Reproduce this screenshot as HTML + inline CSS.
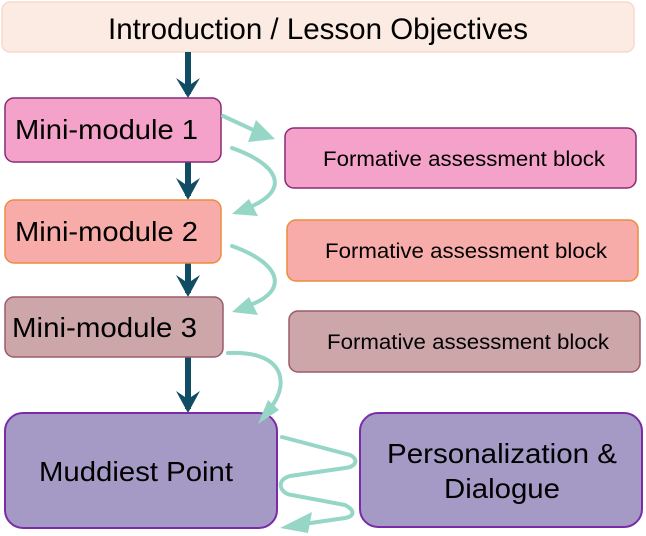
<!DOCTYPE html>
<html><head><meta charset="utf-8"><style>html,body{margin:0;padding:0;background:#fff}svg{display:block}</style></head><body>
<svg width="646" height="536" viewBox="0 0 646 536" xmlns="http://www.w3.org/2000/svg" font-family="Liberation Sans, Arial, sans-serif">
<rect x="2" y="2" width="632" height="50" rx="8" fill="#fcebe2" stroke="#f7d9cc" stroke-width="1.5"/>
<text x="318" y="39" font-size="30" text-anchor="middle" textLength="420" lengthAdjust="spacingAndGlyphs">Introduction / Lesson Objectives</text>

<g stroke="#104c64" stroke-width="6" fill="none">
<line x1="188" y1="52" x2="188" y2="94"/>
<line x1="188" y1="162" x2="188" y2="196"/>
<line x1="188" y1="263" x2="188" y2="293"/>
<line x1="188" y1="357" x2="188" y2="409"/>
</g>
<g fill="#104c64">
<polygon points="176,78 188,98 200,78 188,86"/>
<polygon points="176,178 188,200 200,178 188,186"/>
<polygon points="176,275 188,297 200,275 188,283"/>
<polygon points="176,391 188,413 200,391 188,399"/>
</g>

<rect x="5" y="98" width="216" height="64" rx="9" fill="#f4a2c9" stroke="#892a78" stroke-width="1.5"/>
<text x="15" y="139" font-size="28" textLength="183" lengthAdjust="spacingAndGlyphs">Mini-module 1</text>
<rect x="5" y="200" width="216" height="63" rx="9" fill="#f7aca9" stroke="#ec8c3c" stroke-width="1.5"/>
<text x="15" y="241" font-size="28" textLength="183" lengthAdjust="spacingAndGlyphs">Mini-module 2</text>
<rect x="5" y="297" width="218" height="60" rx="9" fill="#cda6aa" stroke="#9a5a6a" stroke-width="1.5"/>
<text x="12" y="337" font-size="28" textLength="185" lengthAdjust="spacingAndGlyphs">Mini-module 3</text>

<rect x="285" y="128" width="351" height="60" rx="9" fill="#f4a2c9" stroke="#892a78" stroke-width="1.5"/>
<text x="323" y="166" font-size="21" textLength="282" lengthAdjust="spacingAndGlyphs">Formative assessment block</text>
<rect x="287" y="220" width="351" height="61" rx="9" fill="#f7aca9" stroke="#ec8c3c" stroke-width="1.5"/>
<text x="325" y="258" font-size="21" textLength="282" lengthAdjust="spacingAndGlyphs">Formative assessment block</text>
<rect x="289" y="311" width="351" height="61" rx="9" fill="#cda6aa" stroke="#9a5a6a" stroke-width="1.5"/>
<text x="327" y="349" font-size="21" textLength="282" lengthAdjust="spacingAndGlyphs">Formative assessment block</text>

<rect x="5" y="413" width="272" height="115" rx="18" fill="#a49ac5" stroke="#7a2ca8" stroke-width="2"/>
<text x="39" y="481" font-size="28" textLength="194" lengthAdjust="spacingAndGlyphs">Muddiest Point</text>
<rect x="360" y="413" width="282" height="114" rx="18" fill="#a49ac5" stroke="#7a2ca8" stroke-width="2"/>
<text x="387" y="463" font-size="28" textLength="230" lengthAdjust="spacingAndGlyphs">Personalization &amp;</text>
<text x="444" y="498" font-size="28" textLength="116" lengthAdjust="spacingAndGlyphs">Dialogue</text>

<g stroke="#96d6c6" stroke-width="4" fill="none" stroke-linecap="round">
<path d="M223,116 L262,134"/>
<path d="M232,148 C280,165 290,190 250,207"/>
<path d="M232,246 C280,263 290,290 250,305"/>
<path d="M228,353 C290,350 290,390 265,414"/>
<path d="M282,437 L350,455 C360,460 355,467 345,468 L290,476 C275,480 280,494 292,495 L345,505 C355,510 355,516 345,518 L290,526"/>
</g>
<g fill="#96d6c6">
<polygon points="248,142 275,139 256,120"/>
<polygon points="232,214 258,216 249,199"/>
<polygon points="232,312 258,315 249,297"/>
<polygon points="258,424 268,400 279,410"/>
<polygon points="280,528 312,512 308,533"/>
</g>
</svg>
</body></html>
